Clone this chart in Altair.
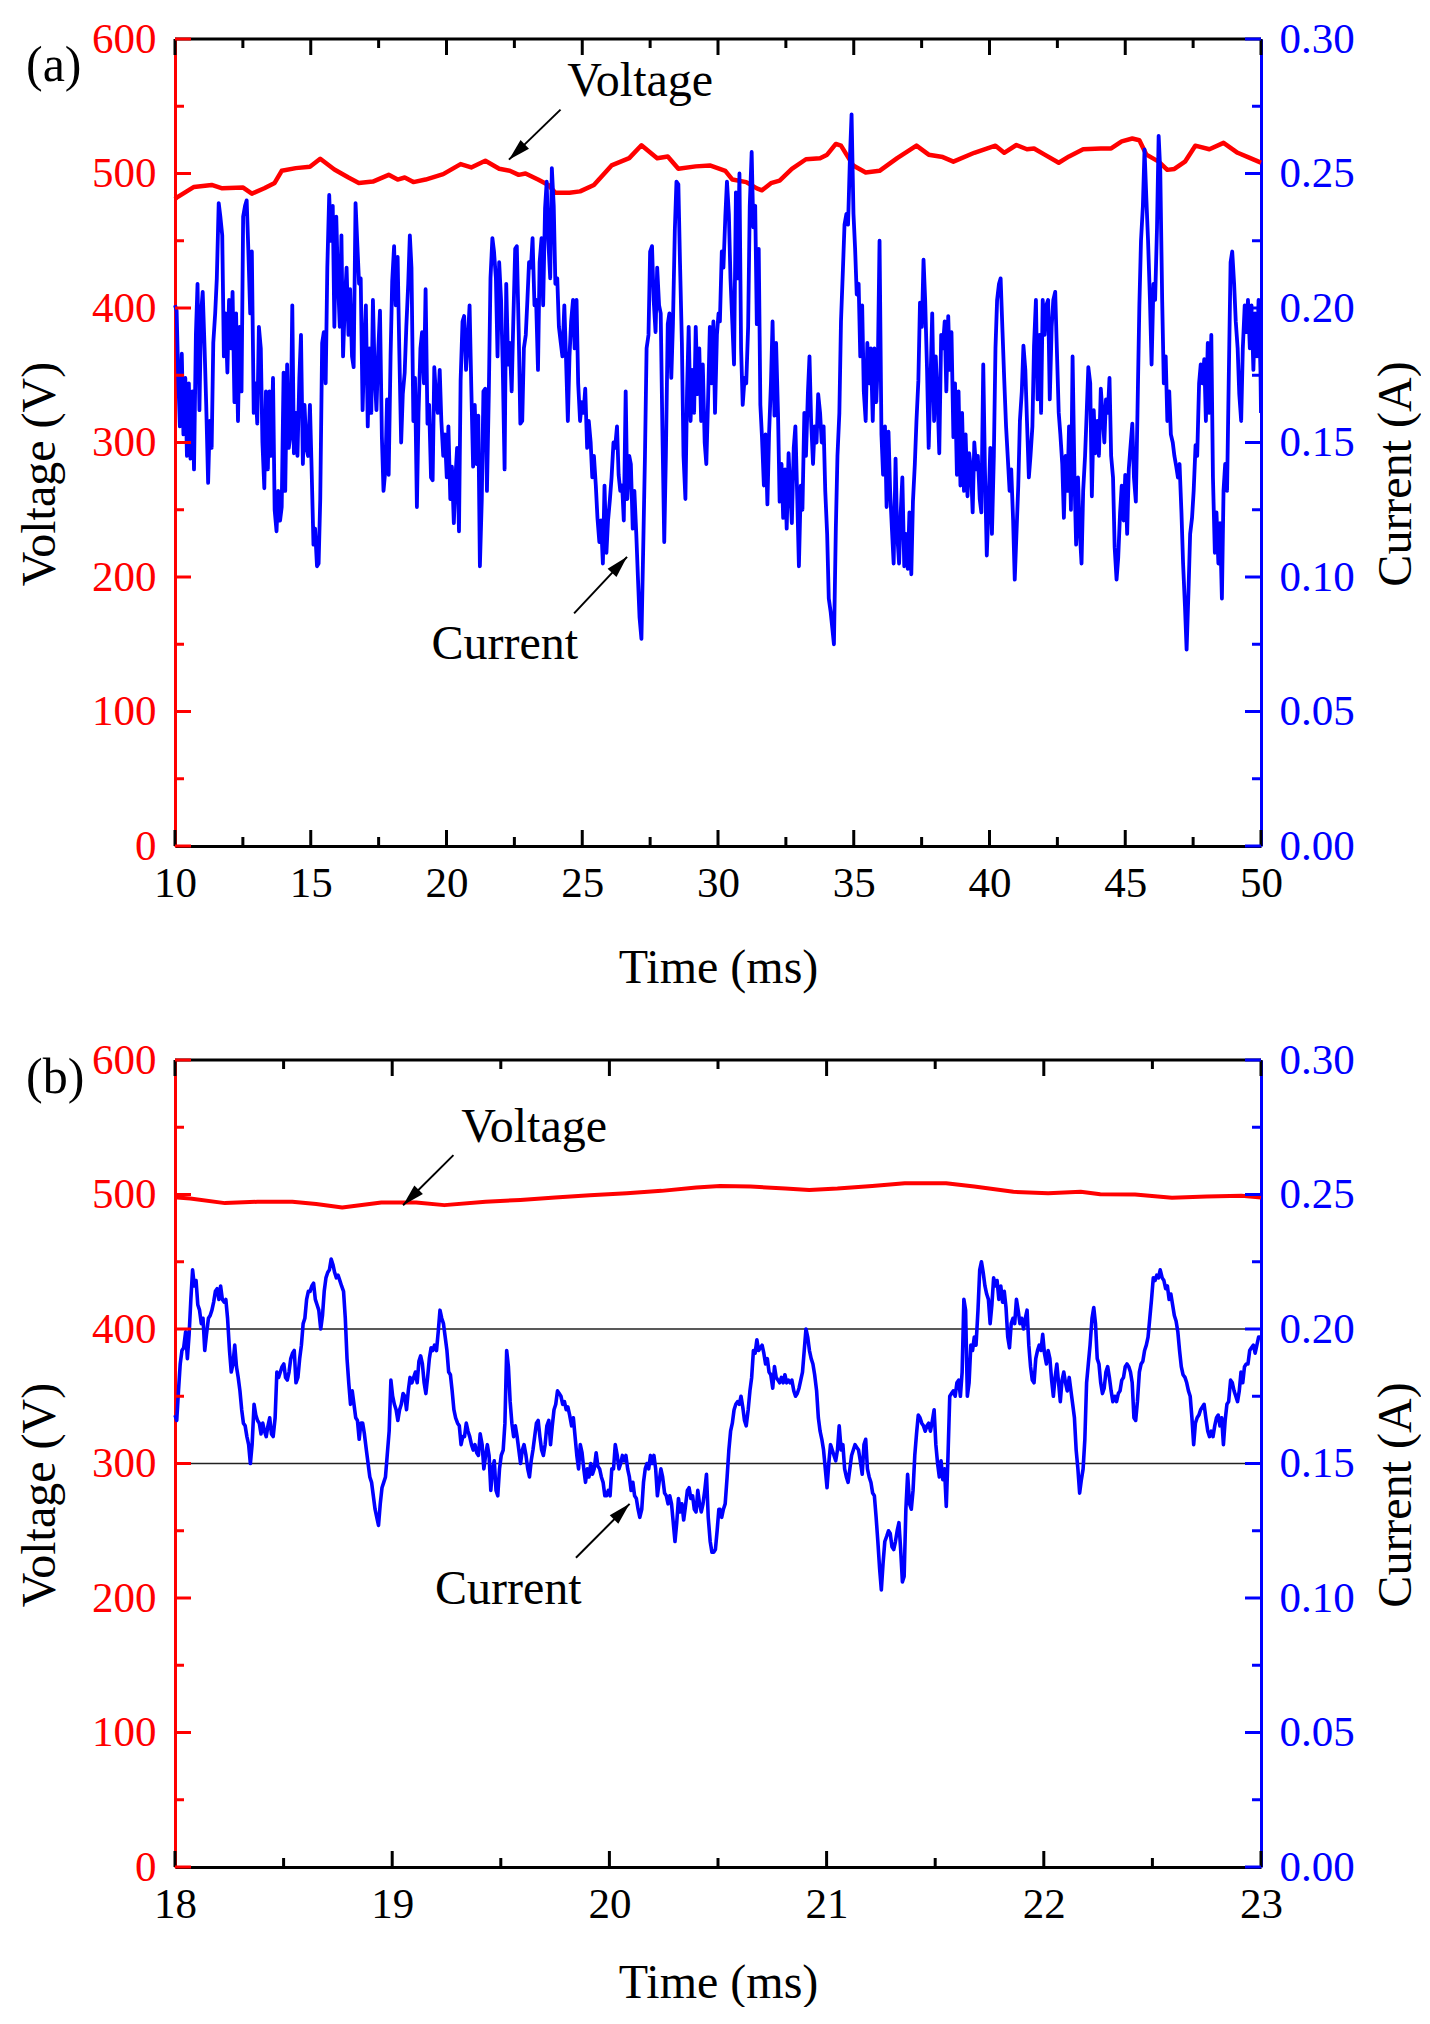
import altair as alt
import pandas as pd

FONT = "Liberation Serif"
RED = "#ff0000"
BLUE = "#0000ff"
W, H = 1086, 807

# ---------------- tick values ----------------
volt_major = [0, 100, 200, 300, 400, 500, 600]
volt_minor = [50, 150, 250, 350, 450, 550]
cur_major = [0.0, 0.05, 0.10, 0.15, 0.20, 0.25, 0.30]
cur_minor = [0.025, 0.075, 0.125, 0.175, 0.225, 0.275]
time_major_a = [10, 15, 20, 25, 30, 35, 40, 45, 50]
time_minor_a = [12.5, 17.5, 22.5, 27.5, 32.5, 37.5, 42.5, 47.5]
time_major_b = [18, 19, 20, 21, 22, 23]
time_minor_b = [18.5, 19.5, 20.5, 21.5, 22.5]

# ---------------- panel (a): voltage ----------------
a_volt_t = [10.00, 10.06, 10.70, 11.35, 11.74, 12.51, 12.83, 13.29, 13.67, 13.93, 14.45, 14.97,
            15.35, 15.87, 16.39, 16.77, 17.29, 17.87, 18.20, 18.46, 18.78, 19.23, 19.88, 20.52,
            20.91, 21.43, 21.94, 22.33, 22.66, 22.91, 23.37, 23.75, 24.01, 24.53, 24.92, 25.43,
            26.08, 26.73, 27.18, 27.76, 28.15, 28.54, 29.18, 29.70, 30.27, 30.53, 31.04, 31.43,
            31.62, 31.95, 32.27, 32.72, 33.24, 33.76, 34.02, 34.34, 34.53, 34.98, 35.44, 35.95,
            36.60, 37.31, 37.76, 38.28, 38.67, 39.44, 40.22, 40.54, 40.99, 41.38, 41.64, 42.03,
            42.55, 42.93, 43.45, 44.10, 44.48, 44.87, 45.26, 45.52, 45.78, 46.23, 46.55, 46.81,
            47.20, 47.58, 48.10, 48.62, 49.14, 49.52, 49.91, 50.00]
a_volt_v = [481, 482, 490, 491.5, 489, 489.5, 485, 489, 493, 502, 504, 505,
            511, 503, 497, 493, 494, 499, 495.5, 497, 493.6, 495.5, 499.5, 507,
            504.5, 509.5, 503.5, 502, 499, 500, 495.5, 491.5, 485.7, 485.7, 486.7, 491.5,
            506, 511.4, 521, 511.4, 512.7, 503.5, 505.3, 506, 502, 495.5, 493.6, 488.9,
            487.5, 492.8, 494.7, 503.4, 510.6, 511.4, 514, 522, 520.7, 506, 500.8, 502,
            511.4, 520.7, 514, 512.2, 508.8, 515.4, 520.7, 515.4, 521.2, 518, 518.6, 514,
            508, 512.7, 518, 518.6, 518.6, 523.9, 526, 524.7, 514, 508.8, 502.7, 503.4,
            508.8, 520.7, 518, 522.8, 515.4, 512.2, 508.8, 508]

# ---------------- panel (a): current ----------------
a_cur_t1 = [10.00,
    10.06, 10.12, 10.18, 10.25, 10.31, 10.38, 10.44, 10.51, 10.57, 10.64,
    10.70, 10.77, 10.83, 10.90, 10.96, 11.02, 11.09, 11.15, 11.22, 11.28,
    11.35, 11.41, 11.48, 11.54, 11.61, 11.67, 11.74, 11.80, 11.86, 11.93,
    11.99, 12.06, 12.12, 12.19, 12.25, 12.32, 12.38, 12.45, 12.51, 12.58,
    12.64, 12.70, 12.77, 12.83, 12.90, 12.96, 13.03, 13.09, 13.16, 13.22,
    13.29, 13.35, 13.42, 13.48, 13.54, 13.61, 13.67, 13.74, 13.80, 13.87,
    13.93, 14.00, 14.06, 14.13, 14.19, 14.26, 14.32, 14.38, 14.45, 14.51,
    14.58, 14.64, 14.71, 14.77, 14.84, 14.90, 14.97, 15.03, 15.10, 15.16,
    15.23, 15.29, 15.35, 15.42, 15.48, 15.55, 15.61, 15.68, 15.74, 15.81,
    15.87, 15.94, 16.00, 16.07, 16.13, 16.19, 16.26, 16.32, 16.39, 16.45,
    16.52, 16.58, 16.65, 16.71, 16.78, 16.84, 16.91, 16.97, 17.03, 17.10,
    17.16, 17.23, 17.29, 17.36, 17.42, 17.49, 17.55, 17.62, 17.68, 17.75,
    17.81, 17.87, 17.94, 18.00, 18.07, 18.13, 18.20, 18.26, 18.33, 18.39,
    18.46, 18.52, 18.59, 18.65, 18.71, 18.78, 18.84, 18.91, 18.97, 19.04,
    19.10, 19.17, 19.23, 19.30, 19.36, 19.43, 19.49, 19.55, 19.62, 19.68,
    19.75, 19.81, 19.88, 19.94, 20.01, 20.07, 20.14, 20.20, 20.27, 20.33,
    20.39, 20.46, 20.52, 20.59, 20.65, 20.72, 20.78, 20.85, 20.91, 20.98,
    21.04, 21.11, 21.17, 21.23, 21.30, 21.36, 21.43, 21.49, 21.56, 21.62,
    21.69, 21.75, 21.82, 21.88, 21.94, 22.01, 22.07, 22.14, 22.20, 22.27,
    22.33, 22.40, 22.46, 22.53, 22.59, 22.66, 22.72, 22.79, 22.85, 22.92,
    22.98, 23.04, 23.11, 23.17, 23.24, 23.30, 23.37, 23.43, 23.50, 23.56,
    23.63, 23.69, 23.75, 23.82, 23.88, 23.95, 24.01, 24.08, 24.14, 24.21,
    24.27, 24.34, 24.40, 24.47, 24.53, 24.59, 24.66, 24.72, 24.79, 24.85,
    24.92, 24.98, 25.05, 25.11, 25.18, 25.24, 25.31, 25.37, 25.43, 25.50,
    25.56, 25.63, 25.69, 25.76, 25.82, 25.89, 25.95, 26.02, 26.08, 26.15,
    26.21, 26.28, 26.34, 26.40, 26.47, 26.53, 26.60, 26.66, 26.73, 26.79,
    26.86, 26.92, 26.99, 27.05, 27.11, 27.18, 27.24, 27.31, 27.37, 27.44,
    27.50, 27.57, 27.63, 27.70, 27.76, 27.83, 27.89, 27.95, 28.02, 28.08,
    28.15, 28.21, 28.28, 28.34, 28.41, 28.47, 28.54, 28.60, 28.67, 28.73,
    28.80, 28.86, 28.92, 28.99, 29.05, 29.12, 29.18, 29.25, 29.31, 29.38,
    29.44, 29.51, 29.57, 29.63, 29.70, 29.76, 29.83, 29.89, 29.96, 30.02]
a_cur_i1 = [0.201,
    0.199, 0.174, 0.156, 0.183, 0.153, 0.174, 0.145, 0.172, 0.144, 0.169,
    0.140, 0.190, 0.209, 0.162, 0.198, 0.206, 0.185, 0.164, 0.135, 0.158,
    0.148, 0.187, 0.198, 0.211, 0.239, 0.234, 0.227, 0.182, 0.198, 0.176,
    0.203, 0.185, 0.206, 0.165, 0.198, 0.158, 0.193, 0.169, 0.234, 0.238,
    0.240, 0.222, 0.198, 0.221, 0.161, 0.172, 0.157, 0.193, 0.185, 0.150,
    0.133, 0.169, 0.140, 0.169, 0.145, 0.174, 0.125, 0.117, 0.132, 0.121,
    0.126, 0.176, 0.132, 0.179, 0.148, 0.153, 0.201, 0.146, 0.161, 0.145,
    0.174, 0.190, 0.142, 0.164, 0.148, 0.145, 0.164, 0.141, 0.112, 0.118,
    0.104, 0.105, 0.129, 0.187, 0.191, 0.172, 0.215, 0.242, 0.225, 0.238,
    0.193, 0.234, 0.211, 0.193, 0.227, 0.182, 0.203, 0.215, 0.190, 0.207,
    0.182, 0.178, 0.239, 0.225, 0.209, 0.211, 0.162, 0.185, 0.201, 0.156,
    0.185, 0.161, 0.203, 0.174, 0.162, 0.185, 0.199, 0.152, 0.132, 0.140,
    0.166, 0.138, 0.182, 0.210, 0.223, 0.201, 0.219, 0.185, 0.150, 0.168,
    0.176, 0.193, 0.209, 0.227, 0.215, 0.158, 0.174, 0.126, 0.161, 0.185,
    0.191, 0.172, 0.207, 0.157, 0.164, 0.137, 0.136, 0.178, 0.166, 0.161,
    0.177, 0.158, 0.145, 0.153, 0.137, 0.156, 0.129, 0.141, 0.120, 0.137,
    0.148, 0.117, 0.173, 0.195, 0.197, 0.177, 0.187, 0.201, 0.172, 0.141,
    0.164, 0.142, 0.160, 0.104, 0.129, 0.169, 0.170, 0.132, 0.169, 0.211,
    0.226, 0.221, 0.211, 0.182, 0.217, 0.203, 0.179, 0.140, 0.209, 0.179,
    0.187, 0.169, 0.195, 0.222, 0.223, 0.191, 0.157, 0.158, 0.185, 0.190,
    0.203, 0.217, 0.215, 0.226, 0.201, 0.203, 0.177, 0.217, 0.226, 0.201,
    0.237, 0.247, 0.225, 0.211, 0.252, 0.238, 0.209, 0.211, 0.193, 0.187,
    0.182, 0.201, 0.182, 0.158, 0.182, 0.195, 0.203, 0.185, 0.203, 0.172,
    0.158, 0.165, 0.161, 0.170, 0.148, 0.158, 0.150, 0.137, 0.145, 0.134,
    0.122, 0.113, 0.121, 0.105, 0.134, 0.109, 0.121, 0.129, 0.137, 0.150,
    0.148, 0.156, 0.138, 0.132, 0.134, 0.121, 0.169, 0.129, 0.145, 0.142,
    0.118, 0.132, 0.116, 0.100, 0.085, 0.077, 0.108, 0.145, 0.185, 0.190,
    0.221, 0.223, 0.203, 0.191, 0.215, 0.201, 0.198, 0.156, 0.113, 0.145,
    0.194, 0.198, 0.174, 0.194, 0.229, 0.247, 0.246, 0.217, 0.187, 0.145,
    0.129, 0.169, 0.193, 0.158, 0.177, 0.161, 0.193, 0.168, 0.185, 0.158,
    0.179, 0.150, 0.142, 0.164, 0.193, 0.172, 0.195, 0.161, 0.190, 0.198]
a_cur_t2 = [
    30.07, 30.14, 30.20, 30.27, 30.33, 30.40, 30.46, 30.53, 30.59, 30.66,
    30.72, 30.79, 30.85, 30.91, 30.98, 31.04, 31.11, 31.17, 31.24, 31.30,
    31.37, 31.43, 31.50, 31.56, 31.62, 31.69, 31.75, 31.82, 31.88, 31.95,
    32.01, 32.08, 32.14, 32.21, 32.27, 32.34, 32.40, 32.47, 32.53, 32.60,
    32.66, 32.72, 32.79, 32.85, 32.92, 32.98, 33.05, 33.11, 33.18, 33.24,
    33.31, 33.37, 33.43, 33.50, 33.56, 33.63, 33.69, 33.76, 33.82, 33.89,
    33.95, 34.02, 34.08, 34.15, 34.21, 34.27, 34.34, 34.40, 34.47, 34.53,
    34.60, 34.66, 34.73, 34.79, 34.86, 34.92, 34.99, 35.05, 35.11, 35.18,
    35.24, 35.31, 35.37, 35.44, 35.50, 35.57, 35.63, 35.70, 35.76, 35.83,
    35.89, 35.95, 36.02, 36.08, 36.15, 36.21, 36.28, 36.34, 36.41, 36.47,
    36.54, 36.60, 36.67, 36.73, 36.79, 36.86, 36.92, 36.99, 37.05, 37.12,
    37.18, 37.25, 37.31, 37.38, 37.44, 37.51, 37.57, 37.63, 37.70, 37.76,
    37.83, 37.89, 37.96, 38.02, 38.09, 38.15, 38.22, 38.28, 38.35, 38.41,
    38.48, 38.54, 38.60, 38.67, 38.73, 38.80, 38.86, 38.93, 38.99, 39.06,
    39.12, 39.19, 39.25, 39.32, 39.38, 39.44, 39.51, 39.57, 39.64, 39.70,
    39.77, 39.83, 39.90, 39.96, 40.03, 40.09, 40.16, 40.22, 40.28, 40.35,
    40.41, 40.48, 40.54, 40.61, 40.67, 40.74, 40.80, 40.87, 40.93, 41.00,
    41.06, 41.12, 41.19, 41.25, 41.32, 41.38, 41.45, 41.51, 41.58, 41.64,
    41.71, 41.77, 41.84, 41.90, 41.96, 42.03, 42.09, 42.16, 42.22, 42.29,
    42.35, 42.42, 42.48, 42.55, 42.61, 42.68, 42.74, 42.80, 42.87, 42.93,
    43.00, 43.06, 43.13, 43.19, 43.26, 43.32, 43.39, 43.45, 43.52, 43.58,
    43.64, 43.71, 43.77, 43.84, 43.90, 43.97, 44.03, 44.10, 44.16, 44.23,
    44.29, 44.36, 44.42, 44.48, 44.55, 44.61, 44.68, 44.74, 44.81, 44.87,
    44.94, 45.00, 45.07, 45.13, 45.19, 45.26, 45.32, 45.39, 45.45, 45.52,
    45.58, 45.65, 45.71, 45.78, 45.84, 45.91, 45.97, 46.04, 46.10, 46.17,
    46.23, 46.29, 46.36, 46.42, 46.49, 46.55, 46.62, 46.68, 46.75, 46.81,
    46.88, 46.94, 47.00, 47.07, 47.13, 47.20, 47.26, 47.33, 47.39, 47.46,
    47.52, 47.59, 47.65, 47.72, 47.78, 47.84, 47.91, 47.97, 48.04, 48.10,
    48.17, 48.23, 48.30, 48.36, 48.43, 48.49, 48.56, 48.62, 48.68, 48.75,
    48.81, 48.88, 48.94, 49.01, 49.07, 49.14, 49.20, 49.27, 49.33, 49.40,
    49.46, 49.52, 49.59, 49.65, 49.72, 49.78, 49.85, 49.91, 49.98, 50.00]
a_cur_i2 = [
    0.195, 0.221, 0.215, 0.234, 0.247, 0.235, 0.211, 0.194, 0.179, 0.243,
    0.211, 0.250, 0.185, 0.164, 0.174, 0.172, 0.193, 0.238, 0.258, 0.230,
    0.238, 0.194, 0.222, 0.164, 0.152, 0.134, 0.153, 0.127, 0.153, 0.172,
    0.195, 0.160, 0.187, 0.161, 0.128, 0.142, 0.122, 0.140, 0.118, 0.146,
    0.132, 0.120, 0.148, 0.156, 0.129, 0.104, 0.134, 0.125, 0.161, 0.145,
    0.168, 0.182, 0.158, 0.142, 0.156, 0.150, 0.168, 0.161, 0.150, 0.156,
    0.132, 0.116, 0.092, 0.087, 0.081, 0.075, 0.118, 0.145, 0.161, 0.195,
    0.214, 0.231, 0.235, 0.231, 0.256, 0.272, 0.235, 0.222, 0.205, 0.209,
    0.182, 0.201, 0.169, 0.158, 0.187, 0.172, 0.185, 0.158, 0.185, 0.165,
    0.181, 0.225, 0.153, 0.138, 0.156, 0.126, 0.154, 0.132, 0.117, 0.105,
    0.144, 0.116, 0.105, 0.124, 0.137, 0.104, 0.116, 0.103, 0.124, 0.101,
    0.128, 0.142, 0.158, 0.173, 0.202, 0.193, 0.218, 0.203, 0.177, 0.148,
    0.174, 0.198, 0.158, 0.182, 0.166, 0.146, 0.190, 0.185, 0.195, 0.169,
    0.197, 0.177, 0.191, 0.152, 0.172, 0.138, 0.169, 0.134, 0.161, 0.132,
    0.153, 0.130, 0.146, 0.140, 0.124, 0.150, 0.140, 0.145, 0.129, 0.124,
    0.179, 0.141, 0.108, 0.125, 0.148, 0.116, 0.145, 0.185, 0.203, 0.209,
    0.211, 0.191, 0.174, 0.156, 0.145, 0.132, 0.140, 0.121, 0.099, 0.118,
    0.134, 0.158, 0.169, 0.186, 0.177, 0.158, 0.137, 0.145, 0.156, 0.186,
    0.203, 0.166, 0.190, 0.161, 0.203, 0.190, 0.201, 0.203, 0.166, 0.193,
    0.203, 0.206, 0.185, 0.161, 0.153, 0.142, 0.122, 0.145, 0.132, 0.156,
    0.125, 0.182, 0.137, 0.112, 0.137, 0.118, 0.105, 0.132, 0.145, 0.161,
    0.178, 0.172, 0.130, 0.162, 0.146, 0.158, 0.145, 0.170, 0.161, 0.150,
    0.166, 0.161, 0.174, 0.145, 0.137, 0.111, 0.099, 0.107, 0.124, 0.134,
    0.121, 0.138, 0.116, 0.140, 0.148, 0.157, 0.137, 0.128, 0.161, 0.201,
    0.225, 0.238, 0.259, 0.240, 0.225, 0.203, 0.179, 0.209, 0.203, 0.230,
    0.264, 0.251, 0.203, 0.172, 0.182, 0.158, 0.169, 0.153, 0.150, 0.145,
    0.141, 0.137, 0.142, 0.124, 0.105, 0.089, 0.073, 0.095, 0.116, 0.122,
    0.132, 0.149, 0.145, 0.172, 0.179, 0.172, 0.181, 0.158, 0.187, 0.161,
    0.190, 0.137, 0.109, 0.124, 0.105, 0.120, 0.092, 0.132, 0.142, 0.132,
    0.172, 0.217, 0.221, 0.209, 0.195, 0.185, 0.168, 0.158, 0.185, 0.201,
    0.191, 0.203, 0.185, 0.201, 0.177, 0.198, 0.182, 0.203, 0.177, 0.161]

# ---------------- panel (b): voltage ----------------
b_volt_t = [18.00, 18.01, 18.07, 18.23, 18.38, 18.54, 18.65, 18.77, 18.95, 19.11, 19.24, 19.43,
            19.59, 19.75, 19.91, 20.08, 20.24, 20.40, 20.51, 20.65, 20.81, 20.92, 21.05, 21.21,
            21.36, 21.55, 21.68, 21.86, 22.02, 22.17, 22.26, 22.42, 22.59, 22.75, 22.91, 23.00]
b_volt_v = [498, 497.8, 497, 493.6, 494.6, 494.6, 492.9, 490.4, 494.1, 494.1, 492.1, 494.6,
            496, 497.8, 499.5, 501, 502.7, 505.2, 506.4, 505.9, 504.4, 503.4, 504.4, 506.4,
            508.4, 508.4, 505.9, 502, 501, 502, 500.2, 500, 497.5, 498.5, 499, 497.8]

# ---------------- panel (b): current ----------------
b_cur_t1 = [18.000,
    18.008, 18.016, 18.024, 18.032, 18.040, 18.049, 18.057, 18.065, 18.073, 18.081,
    18.089, 18.097, 18.105, 18.113, 18.121, 18.129, 18.137, 18.145, 18.154, 18.162,
    18.170, 18.178, 18.186, 18.194, 18.202, 18.210, 18.218, 18.226, 18.234, 18.242,
    18.251, 18.259, 18.267, 18.275, 18.283, 18.291, 18.299, 18.307, 18.315, 18.323,
    18.331, 18.339, 18.347, 18.355, 18.364, 18.372, 18.380, 18.388, 18.396, 18.404,
    18.412, 18.420, 18.428, 18.436, 18.444, 18.452, 18.461, 18.469, 18.477, 18.485,
    18.493, 18.501, 18.509, 18.517, 18.525, 18.533, 18.541, 18.549, 18.557, 18.566,
    18.574, 18.582, 18.590, 18.598, 18.606, 18.614, 18.622, 18.630, 18.638, 18.646,
    18.654, 18.662, 18.671, 18.679, 18.687, 18.695, 18.703, 18.711, 18.719, 18.727,
    18.735, 18.743, 18.751, 18.759, 18.767, 18.776, 18.784, 18.792, 18.800, 18.808,
    18.816, 18.824, 18.832, 18.840, 18.848, 18.856, 18.864, 18.872, 18.881, 18.889,
    18.897, 18.905, 18.913, 18.921, 18.929, 18.937, 18.945, 18.953, 18.961, 18.969,
    18.977, 18.986, 18.994, 19.002, 19.010, 19.018, 19.026, 19.034, 19.042, 19.050,
    19.058, 19.066, 19.074, 19.082, 19.091, 19.099, 19.107, 19.115, 19.123, 19.131,
    19.139, 19.147, 19.155, 19.163, 19.171, 19.179, 19.187, 19.195, 19.204, 19.212,
    19.220, 19.228, 19.236, 19.244, 19.252, 19.260, 19.268, 19.276, 19.284, 19.292,
    19.301, 19.309, 19.317, 19.325, 19.333, 19.341, 19.349, 19.357, 19.365, 19.373,
    19.381, 19.389, 19.397, 19.405, 19.414, 19.422, 19.430, 19.438, 19.446, 19.454,
    19.462, 19.470, 19.478, 19.486, 19.494, 19.502, 19.511, 19.519, 19.527, 19.535,
    19.543, 19.551, 19.559, 19.567, 19.575, 19.583, 19.591, 19.599, 19.607, 19.616,
    19.624, 19.632, 19.640, 19.648, 19.656, 19.664, 19.672, 19.680, 19.688, 19.696,
    19.704, 19.712, 19.721, 19.729, 19.737, 19.745, 19.753, 19.761, 19.769, 19.777,
    19.785, 19.793, 19.801, 19.809, 19.817, 19.826, 19.834, 19.842, 19.850, 19.858,
    19.866, 19.874, 19.882, 19.890, 19.898, 19.906, 19.914, 19.922, 19.930, 19.939,
    19.947, 19.955, 19.963, 19.971, 19.979, 19.987, 19.995, 20.003, 20.011, 20.019,
    20.027, 20.036, 20.044, 20.052, 20.060, 20.068, 20.076, 20.084, 20.092, 20.100,
    20.108, 20.116, 20.124, 20.132, 20.140, 20.149, 20.157, 20.165, 20.173, 20.181,
    20.189, 20.197, 20.205, 20.213, 20.221, 20.229, 20.237, 20.245, 20.254, 20.262,
    20.270, 20.278, 20.286, 20.294, 20.302, 20.310, 20.318, 20.326, 20.334, 20.342,
    20.350, 20.359, 20.367, 20.375, 20.383, 20.391, 20.399, 20.407, 20.415, 20.423,
    20.431, 20.439, 20.447, 20.455, 20.464, 20.472, 20.480, 20.488, 20.496, 20.504]
b_cur_i1 = [0.168,
    0.166, 0.177, 0.187, 0.192, 0.193, 0.199, 0.189, 0.198, 0.211, 0.222,
    0.216, 0.218, 0.209, 0.207, 0.202, 0.204, 0.192, 0.198, 0.204, 0.205,
    0.207, 0.210, 0.214, 0.215, 0.211, 0.216, 0.211, 0.210, 0.211, 0.204,
    0.192, 0.184, 0.187, 0.194, 0.186, 0.182, 0.177, 0.170, 0.165, 0.164,
    0.160, 0.157, 0.150, 0.157, 0.172, 0.168, 0.166, 0.165, 0.161, 0.165,
    0.162, 0.160, 0.164, 0.167, 0.161, 0.160, 0.167, 0.184, 0.182, 0.184,
    0.186, 0.187, 0.182, 0.181, 0.184, 0.189, 0.191, 0.192, 0.180, 0.182,
    0.189, 0.194, 0.202, 0.204, 0.211, 0.214, 0.214, 0.216, 0.217, 0.211,
    0.209, 0.207, 0.200, 0.205, 0.214, 0.219, 0.221, 0.222, 0.226, 0.224,
    0.221, 0.219, 0.220, 0.218, 0.216, 0.214, 0.204, 0.189, 0.180, 0.172,
    0.177, 0.172, 0.167, 0.166, 0.159, 0.165, 0.165, 0.161, 0.155, 0.150,
    0.145, 0.143, 0.138, 0.133, 0.130, 0.127, 0.135, 0.141, 0.143, 0.145,
    0.153, 0.162, 0.181, 0.175, 0.172, 0.170, 0.166, 0.170, 0.172, 0.176,
    0.175, 0.170, 0.177, 0.182, 0.180, 0.182, 0.184, 0.180, 0.188, 0.190,
    0.187, 0.180, 0.176, 0.182, 0.189, 0.193, 0.192, 0.194, 0.192, 0.199,
    0.207, 0.204, 0.202, 0.197, 0.192, 0.184, 0.183, 0.177, 0.170, 0.167,
    0.165, 0.164, 0.157, 0.160, 0.160, 0.165, 0.162, 0.160, 0.157, 0.155,
    0.157, 0.154, 0.153, 0.161, 0.157, 0.148, 0.153, 0.157, 0.153, 0.140,
    0.148, 0.151, 0.140, 0.138, 0.148, 0.153, 0.155, 0.165, 0.192, 0.186,
    0.173, 0.165, 0.160, 0.164, 0.160, 0.155, 0.150, 0.155, 0.157, 0.153,
    0.148, 0.145, 0.151, 0.155, 0.160, 0.165, 0.166, 0.160, 0.155, 0.153,
    0.157, 0.164, 0.166, 0.157, 0.164, 0.170, 0.172, 0.177, 0.176, 0.175,
    0.172, 0.173, 0.170, 0.171, 0.168, 0.164, 0.167, 0.160, 0.153, 0.148,
    0.157, 0.154, 0.148, 0.143, 0.148, 0.145, 0.150, 0.146, 0.148, 0.154,
    0.149, 0.148, 0.145, 0.143, 0.138, 0.138, 0.140, 0.138, 0.148, 0.148,
    0.157, 0.153, 0.148, 0.150, 0.153, 0.151, 0.153, 0.148, 0.145, 0.140,
    0.143, 0.138, 0.137, 0.133, 0.130, 0.133, 0.143, 0.148, 0.150, 0.148,
    0.153, 0.150, 0.153, 0.148, 0.138, 0.143, 0.148, 0.145, 0.139, 0.138,
    0.135, 0.138, 0.135, 0.128, 0.121, 0.128, 0.137, 0.132, 0.135, 0.129,
    0.134, 0.140, 0.141, 0.137, 0.138, 0.133, 0.132, 0.140, 0.135, 0.132,
    0.135, 0.140, 0.146, 0.130, 0.121, 0.117, 0.117, 0.118, 0.125, 0.133]
b_cur_t2 = [
    20.509, 20.517, 20.525, 20.533, 20.542, 20.550, 20.558, 20.566, 20.574, 20.582,
    20.590, 20.598, 20.606, 20.614, 20.622, 20.630, 20.639, 20.647, 20.655, 20.663,
    20.671, 20.679, 20.687, 20.695, 20.703, 20.711, 20.719, 20.727, 20.735, 20.743,
    20.752, 20.760, 20.768, 20.776, 20.784, 20.792, 20.800, 20.808, 20.816, 20.824,
    20.832, 20.840, 20.849, 20.857, 20.865, 20.873, 20.881, 20.889, 20.897, 20.905,
    20.913, 20.921, 20.929, 20.937, 20.945, 20.954, 20.962, 20.970, 20.978, 20.986,
    20.994, 21.002, 21.010, 21.018, 21.026, 21.034, 21.042, 21.050, 21.058, 21.067,
    21.075, 21.083, 21.091, 21.099, 21.107, 21.115, 21.123, 21.131, 21.139, 21.147,
    21.155, 21.164, 21.172, 21.180, 21.188, 21.196, 21.204, 21.212, 21.220, 21.228,
    21.236, 21.244, 21.252, 21.260, 21.268, 21.277, 21.285, 21.293, 21.301, 21.309,
    21.317, 21.325, 21.333, 21.341, 21.349, 21.357, 21.365, 21.373, 21.382, 21.390,
    21.398, 21.406, 21.414, 21.422, 21.430, 21.438, 21.446, 21.454, 21.462, 21.470,
    21.478, 21.487, 21.495, 21.503, 21.511, 21.519, 21.527, 21.535, 21.543, 21.551,
    21.559, 21.567, 21.575, 21.583, 21.592, 21.600, 21.608, 21.616, 21.624, 21.632,
    21.640, 21.648, 21.656, 21.664, 21.672, 21.680, 21.688, 21.697, 21.705, 21.713,
    21.721, 21.729, 21.737, 21.745, 21.753, 21.761, 21.769, 21.777, 21.785, 21.793,
    21.802, 21.810, 21.818, 21.826, 21.834, 21.842, 21.850, 21.858, 21.866, 21.874,
    21.882, 21.890, 21.898, 21.907, 21.915, 21.923, 21.931, 21.939, 21.947, 21.955,
    21.963, 21.971, 21.979, 21.987, 21.995, 22.003, 22.012, 22.020, 22.028, 22.036,
    22.044, 22.052, 22.060, 22.068, 22.076, 22.084, 22.092, 22.100, 22.108, 22.117,
    22.125, 22.133, 22.141, 22.149, 22.157, 22.165, 22.173, 22.181, 22.189, 22.197,
    22.205, 22.213, 22.222, 22.230, 22.238, 22.246, 22.254, 22.262, 22.270, 22.278,
    22.286, 22.294, 22.302, 22.310, 22.318, 22.327, 22.335, 22.343, 22.351, 22.359,
    22.367, 22.375, 22.383, 22.391, 22.399, 22.407, 22.415, 22.423, 22.431, 22.440,
    22.448, 22.456, 22.464, 22.472, 22.480, 22.488, 22.496, 22.504, 22.512, 22.520,
    22.528, 22.536, 22.545, 22.553, 22.561, 22.569, 22.577, 22.585, 22.593, 22.601,
    22.609, 22.617, 22.625, 22.633, 22.641, 22.650, 22.658, 22.666, 22.674, 22.682,
    22.690, 22.698, 22.706, 22.714, 22.722, 22.730, 22.738, 22.746, 22.755, 22.763,
    22.771, 22.779, 22.787, 22.795, 22.803, 22.811, 22.819, 22.827, 22.835, 22.843,
    22.851, 22.860, 22.868, 22.876, 22.884, 22.892, 22.900, 22.908, 22.916, 22.924,
    22.932, 22.940, 22.948, 22.956, 22.965, 22.973, 22.981, 22.989, 23.000]
b_cur_i2 = [
    0.133, 0.130, 0.133, 0.135, 0.145, 0.155, 0.162, 0.165, 0.170, 0.172,
    0.173, 0.172, 0.175, 0.171, 0.166, 0.164, 0.170, 0.177, 0.182, 0.192,
    0.191, 0.196, 0.192, 0.193, 0.194, 0.191, 0.187, 0.189, 0.184, 0.183,
    0.178, 0.186, 0.182, 0.181, 0.180, 0.182, 0.180, 0.183, 0.180, 0.181,
    0.180, 0.181, 0.177, 0.175, 0.176, 0.178, 0.181, 0.184, 0.192, 0.200,
    0.197, 0.192, 0.189, 0.187, 0.183, 0.177, 0.167, 0.162, 0.159, 0.155,
    0.148, 0.141, 0.150, 0.157, 0.155, 0.153, 0.151, 0.155, 0.164, 0.155,
    0.157, 0.148, 0.145, 0.143, 0.148, 0.153, 0.155, 0.157, 0.156, 0.155,
    0.151, 0.146, 0.157, 0.159, 0.148, 0.145, 0.143, 0.139, 0.138, 0.130,
    0.121, 0.111, 0.103, 0.113, 0.121, 0.123, 0.125, 0.124, 0.119, 0.118,
    0.121, 0.125, 0.128, 0.118, 0.106, 0.108, 0.133, 0.146, 0.135, 0.133,
    0.140, 0.153, 0.161, 0.168, 0.167, 0.165, 0.164, 0.162, 0.164, 0.165,
    0.162, 0.166, 0.170, 0.157, 0.150, 0.145, 0.151, 0.144, 0.148, 0.134,
    0.153, 0.175, 0.176, 0.177, 0.175, 0.180, 0.181, 0.175, 0.184, 0.211,
    0.207, 0.175, 0.180, 0.194, 0.192, 0.197, 0.194, 0.207, 0.222, 0.225,
    0.221, 0.216, 0.213, 0.211, 0.202, 0.209, 0.219, 0.216, 0.218, 0.211,
    0.216, 0.210, 0.214, 0.208, 0.197, 0.193, 0.202, 0.204, 0.202, 0.211,
    0.207, 0.202, 0.204, 0.200, 0.204, 0.207, 0.194, 0.186, 0.181, 0.180,
    0.189, 0.192, 0.194, 0.192, 0.198, 0.191, 0.187, 0.192, 0.189, 0.181,
    0.175, 0.182, 0.187, 0.180, 0.173, 0.181, 0.184, 0.180, 0.177, 0.182,
    0.177, 0.172, 0.167, 0.155, 0.148, 0.139, 0.144, 0.148, 0.159, 0.180,
    0.187, 0.194, 0.204, 0.208, 0.202, 0.189, 0.187, 0.180, 0.176, 0.178,
    0.184, 0.186, 0.182, 0.177, 0.173, 0.175, 0.173, 0.176, 0.177, 0.181,
    0.182, 0.186, 0.187, 0.186, 0.184, 0.180, 0.167, 0.166, 0.173, 0.184,
    0.187, 0.188, 0.192, 0.194, 0.197, 0.204, 0.211, 0.219, 0.218, 0.220,
    0.219, 0.222, 0.219, 0.218, 0.215, 0.216, 0.211, 0.213, 0.209, 0.205,
    0.203, 0.199, 0.192, 0.186, 0.183, 0.182, 0.180, 0.177, 0.175, 0.167,
    0.157, 0.165, 0.167, 0.168, 0.170, 0.171, 0.172, 0.167, 0.162, 0.160,
    0.162, 0.160, 0.164, 0.167, 0.168, 0.164, 0.167, 0.157, 0.166, 0.172,
    0.173, 0.181, 0.180, 0.177, 0.175, 0.173, 0.177, 0.184, 0.180, 0.186,
    0.187, 0.187, 0.192, 0.193, 0.194, 0.191, 0.194, 0.197, 0.197]

# ---------------- annotations ----------------
a_text = pd.DataFrame({"s": ["Voltage", "Current"], "t": [24.45, 19.45], "V": [557.4, 138.8]})
a_arrows = [(24.2, 547.5, 22.30, 510.3, 226), (24.7, 173.0, 26.65, 215.0, 43)]
b_text = pd.DataFrame({"s": ["Voltage", "Current"], "t": [19.318, 19.197], "V": [539.2, 195.8]})
b_arrows = [(19.282, 529.3, 19.05, 492.0, 225), (19.846, 229.9, 20.093, 270.0, 45)]

ARROW_PATH = "M0,0L0.55,2L-0.55,2Z"


def make_panel(vt, vv, ct, ci, xdom, xmaj, xmin, vwidth, cwidth, grid, texts, arrows,
               label, label_y, x_title_pad):
    xs = alt.Scale(domain=xdom, nice=False, zero=False)
    vs = alt.Scale(domain=[0, 600], nice=False, zero=False)
    cs = alt.Scale(domain=[0, 0.30], nice=False, zero=False)

    # the same x axis spec is given to every layer that encodes a time field,
    # so that the shared axis merges cleanly
    x_axis = alt.Axis(values=xmaj, format="d", title="Time (ms)", labelFontSize=43,
                      labelColor="black", labelPadding=16, labelFlush=False, labelOverlap=False,
                      ticks=False, domainColor="black", domainWidth=3,
                      titleFontSize=48, titleFontWeight="normal", titleColor="black",
                      titlePadding=x_title_pad, grid=False, orient="bottom")
    v_axis = alt.Axis(orient="left", values=volt_major, format="d", title="Voltage (V)",
                      labelFontSize=43, labelColor=RED, labelPadding=19, labelOverlap=False,
                      ticks=False, domainColor=RED, domainWidth=3,
                      titleFontSize=48, titleFontWeight="normal", titleColor="black",
                      titlePadding=27, titleY=H / 2 + 31, grid=False)
    c_axis = alt.Axis(orient="right", values=cur_major, format=".2f", title="Current (A)",
                      labelFontSize=43, labelColor=BLUE, labelPadding=18, labelOverlap=False,
                      ticks=False, domainColor=BLUE, domainWidth=3,
                      titleFontSize=48, titleFontWeight="normal", titleColor="black",
                      titlePadding=18, titleAngle=270, titleBaseline="top",
                      titleY=H / 2 + 31, grid=False)

    def X(field):
        return alt.X(field, scale=xs, axis=x_axis)

    layers = []
    if grid:
        layers.append(
            alt.Chart(pd.DataFrame({"V": grid})).mark_rule(color="#222222", strokeWidth=1.6)
            .encode(y=alt.Y("V:Q", scale=vs, axis=None), x=alt.value(0), x2=alt.value(W)))
    # voltage trace (left axis)
    layers.append(
        alt.Chart(pd.DataFrame({"t": vt, "V": vv}))
        .mark_line(color=RED, strokeWidth=vwidth, strokeJoin="round")
        .encode(x=X("t:Q"), y=alt.Y("V:Q", scale=vs, axis=v_axis)))
    # current trace (right axis)
    layers.append(
        alt.Chart(pd.DataFrame({"t": ct, "I": ci}))
        .mark_line(color=BLUE, strokeWidth=cwidth, strokeJoin="round")
        .encode(x=X("t:Q"), y=alt.Y("I:Q", scale=cs, axis=c_axis)))
    # top frame line
    layers.append(
        alt.Chart(pd.DataFrame({"k": [0]})).mark_rule(color="black", strokeWidth=3)
        .encode(x=alt.value(0), x2=alt.value(W), y=alt.value(0)))
    # x ticks (bottom and top, pointing inward)
    for vals, ln in ((xmaj, 16), (xmin, 9)):
        d = pd.DataFrame({"t": vals})
        layers.append(alt.Chart(d).mark_rule(color="black", strokeWidth=3)
                      .encode(x=X("t:Q"), y=alt.value(H), y2=alt.value(H - ln)))
        layers.append(alt.Chart(d).mark_rule(color="black", strokeWidth=3)
                      .encode(x=X("t:Q"), y=alt.value(0), y2=alt.value(ln)))
    # left ticks (inward)
    for vals, ln in ((volt_major, 16), (volt_minor, 9)):
        layers.append(alt.Chart(pd.DataFrame({"V": vals})).mark_rule(color=RED, strokeWidth=3)
                      .encode(y=alt.Y("V:Q", scale=vs, axis=None),
                              x=alt.value(0), x2=alt.value(ln)))
    # right ticks (inward)
    for vals, ln in ((cur_major, 16), (cur_minor, 9)):
        layers.append(alt.Chart(pd.DataFrame({"I": vals})).mark_rule(color=BLUE, strokeWidth=3)
                      .encode(y=alt.Y("I:Q", scale=cs, axis=None),
                              x=alt.value(W), x2=alt.value(W - ln)))
    # annotation text
    layers.append(
        alt.Chart(texts).mark_text(align="left", baseline="alphabetic", font=FONT,
                                   fontSize=48, color="black")
        .encode(x=X("t:Q"), y=alt.Y("V:Q", scale=vs, axis=None), text="s:N"))
    for (t0, v0, t1, v1, ang) in arrows:
        d = pd.DataFrame({"t0": [t0], "V0": [v0], "t1": [t1], "V1": [v1]})
        layers.append(alt.Chart(d).mark_rule(color="black", strokeWidth=2)
                      .encode(x=X("t0:Q"), y=alt.Y("V0:Q", scale=vs, axis=None),
                              x2="t1:Q", y2="V1:Q"))
        layers.append(alt.Chart(d).mark_point(shape=ARROW_PATH, filled=True, size=484,
                                              angle=ang, color="black", opacity=1,
                                              strokeWidth=0)
                      .encode(x=X("t1:Q"), y=alt.Y("V1:Q", scale=vs, axis=None)))
    # panel label
    layers.append(
        alt.Chart(pd.DataFrame({"s": [label]})).mark_text(align="left", baseline="alphabetic",
                                                          font=FONT, fontSize=50, color="black")
        .encode(x=alt.value(-149), y=alt.value(label_y), text="s:N"))

    return alt.layer(*layers).resolve_scale(y="independent").properties(width=W, height=H)


panel_a = make_panel(a_volt_t, a_volt_v, a_cur_t1 + a_cur_t2, a_cur_i1 + a_cur_i2,
                     [10, 50], time_major_a, time_minor_a, 4.5, 3.8, None,
                     a_text, a_arrows, "(a)", 42, 39)
panel_b = make_panel(b_volt_t, b_volt_v, b_cur_t1 + b_cur_t2, b_cur_i1 + b_cur_i2,
                     [18, 23], time_major_b, time_minor_b, 4.0, 3.6, [300, 400],
                     b_text, b_arrows, "(b)", 33, 33)

chart = (
    alt.vconcat(panel_a, panel_b, spacing=214, bounds="flush")
    .properties(padding={"left": 8, "top": 10, "right": 0, "bottom": 0})
    .configure_view(stroke=None)
    .configure_axis(labelFont=FONT, titleFont=FONT)
)

chart.save("out.html", embed_options={"renderer": "svg", "actions": False})
